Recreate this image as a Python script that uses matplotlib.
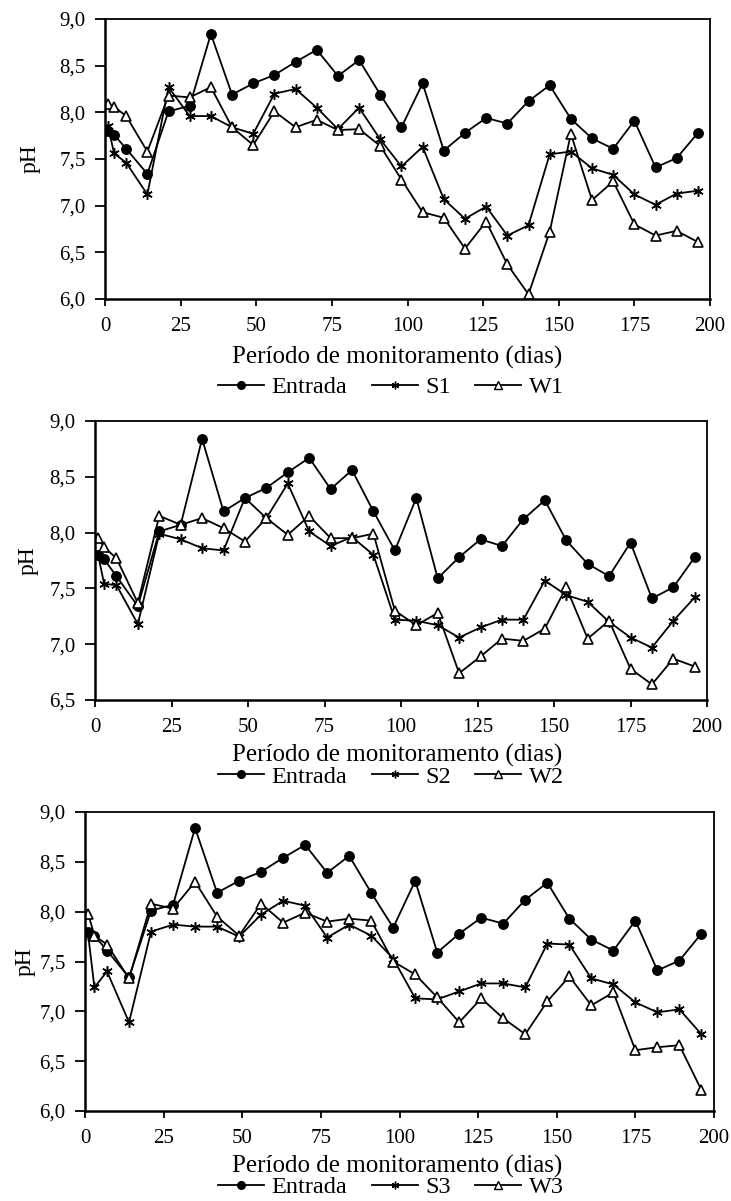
import matplotlib
matplotlib.use("Agg")
import matplotlib.pyplot as plt
from matplotlib.lines import Line2D

plt.rcParams['font.family'] = ['Liberation Serif', 'DejaVu Serif']

# sampling days (same for all three panels)
days = [1, 3, 7, 14, 21, 28, 35, 42, 49, 56, 63, 70, 77, 84, 91, 98,
        105, 112, 119, 126, 133, 140, 147, 154, 161, 168, 175, 182, 189, 196]

# inlet pH (Entrada)
entrada = [7.80, 7.76, 7.61, 7.34, 8.01, 8.07, 8.84, 8.19, 8.31, 8.40,
           8.54, 8.67, 8.39, 8.56, 8.19, 7.84, 8.31, 7.59, 7.78, 7.94,
           7.88, 8.12, 8.29, 7.93, 7.72, 7.61, 7.91, 7.41, 7.51, 7.78]

s1 = [7.85, 7.56, 7.46, 7.12, 8.27, 7.96, 7.96, 7.84, 7.77, 8.20,
      8.25, 8.05, 7.82, 8.05, 7.71, 7.42, 7.63, 7.07, 6.86, 6.99,
      6.68, 6.79, 7.55, 7.58, 7.40, 7.33, 7.12, 7.01, 7.13, 7.16]
w1 = [8.09, 8.06, 7.96, 7.58, 8.18, 8.16, 8.27, 7.84, 7.65, 8.01,
      7.84, 7.92, 7.81, 7.82, 7.64, 7.28, 6.93, 6.87, 6.54, 6.83,
      6.37, 6.05, 6.72, 7.77, 7.06, 7.26, 6.80, 6.68, 6.73, 6.61]

s2 = [7.80, 7.54, 7.53, 7.18, 7.99, 7.94, 7.86, 7.84, 8.31, 8.13,
      8.44, 8.01, 7.88, 7.96, 7.80, 7.22, 7.21, 7.17, 7.06, 7.15,
      7.22, 7.22, 7.57, 7.44, 7.38, 7.20, 7.06, 6.97, 7.21, 7.42]
w2 = [7.95, 7.87, 7.77, 7.37, 8.15, 8.07, 8.13, 8.04, 7.92, 8.13,
      7.98, 8.15, 7.95, 7.95, 7.99, 7.30, 7.17, 7.28, 6.74, 6.89,
      7.05, 7.03, 7.14, 7.51, 7.05, 7.21, 6.78, 6.64, 6.87, 6.80]

s3 = [7.77, 7.24, 7.40, 6.89, 7.80, 7.87, 7.85, 7.85, 7.75, 7.97,
      8.11, 8.06, 7.74, 7.87, 7.76, 7.53, 7.13, 7.12, 7.20, 7.28,
      7.28, 7.24, 7.68, 7.67, 7.33, 7.27, 7.09, 6.99, 7.02, 6.77]
w3 = [7.98, 7.76, 7.67, 7.33, 8.08, 8.03, 8.30, 7.95, 7.76, 8.08,
      7.89, 7.99, 7.90, 7.93, 7.91, 7.50, 7.37, 7.14, 6.89, 7.13,
      6.93, 6.77, 7.10, 7.35, 7.06, 7.19, 6.61, 6.64, 6.66, 6.21]

W, H = 731, 1201
fig = plt.figure(figsize=(W / 100, H / 100), dpi=100)

# (left, top, right, bottom) in pixels, y-min, series, label positions
panels = [
    ((105, 19, 710, 299), 6.0, s1, w1, "S1", "W1", 357, 387, 30),
    ((95, 421, 707, 700), 6.5, s2, w2, "S2", "W2", 755, 777, 28),
    ((85, 812, 714, 1111), 6.0, s3, w3, "S3", "W3", 1166, 1187, 25),
]

asterisk = (6, 2, 0)

for (l, t, r, b), ymin, s_vals, w_vals, s_name, w_name, xl_y, lg_y, ph_x in panels:
    ax = fig.add_axes([l / W, 1 - b / H, (r - l) / W, (b - t) / H])
    ax.plot(days, entrada, color='black', lw=1.3, marker='o', ms=6.8,
            mfc='black', mec='black')
    ax.plot(days, s_vals, color='black', lw=1.3, marker=asterisk, ms=7.5,
            mew=1.1, mec='black')
    ax.plot(days, w_vals, color='black', lw=1.3, marker='^', ms=7.8,
            mfc='white', mec='black', mew=1.2)
    ax.set_xlim(0, 200)
    ax.set_ylim(ymin, 9.0)
    ax.set_xticks(range(0, 201, 25))
    yt = [ymin + 0.5 * i for i in range(int(round((9.0 - ymin) / 0.5)) + 1)]
    ax.set_yticks(yt)
    ax.set_yticklabels([f"{v:.1f}".replace(".", ",") for v in yt])
    ax.tick_params(axis='x', direction='out', length=5, width=1.3,
                   labelsize=15, pad=8)
    ax.tick_params(axis='y', direction='out', length=7, width=1.3,
                   labelsize=15, pad=7)
    for sp in ax.spines.values():
        sp.set_linewidth(1.3)
    ax.spines['left'].set_linewidth(1.8)
    ax.spines['bottom'].set_linewidth(1.8)

    fig.text(ph_x / W, 1 - ((t + b) / 2) / H, "pH", rotation=90,
             ha='center', va='center', fontsize=17)
    fig.text(397 / W, 1 - xl_y / H, "Período de monitoramento (dias)",
             ha='center', va='center', fontsize=18)

    handles = [
        Line2D([], [], color='black', lw=1.3, marker='o', ms=5.5, mfc='black'),
        Line2D([], [], color='black', lw=1.3, marker=asterisk, ms=5.5, mew=1.0),
        Line2D([], [], color='black', lw=1.3, marker='^', ms=6,
               mfc='white', mec='black'),
    ]
    fig.legend(handles, ["Entrada", s_name, w_name], loc='center',
               bbox_to_anchor=(391 / W, 1 - lg_y / H), ncol=3, frameon=False,
               fontsize=17.5, handlelength=1.9, handletextpad=0.3,
               columnspacing=1.0, borderpad=0)

fig.savefig("out.png", dpi=100)
